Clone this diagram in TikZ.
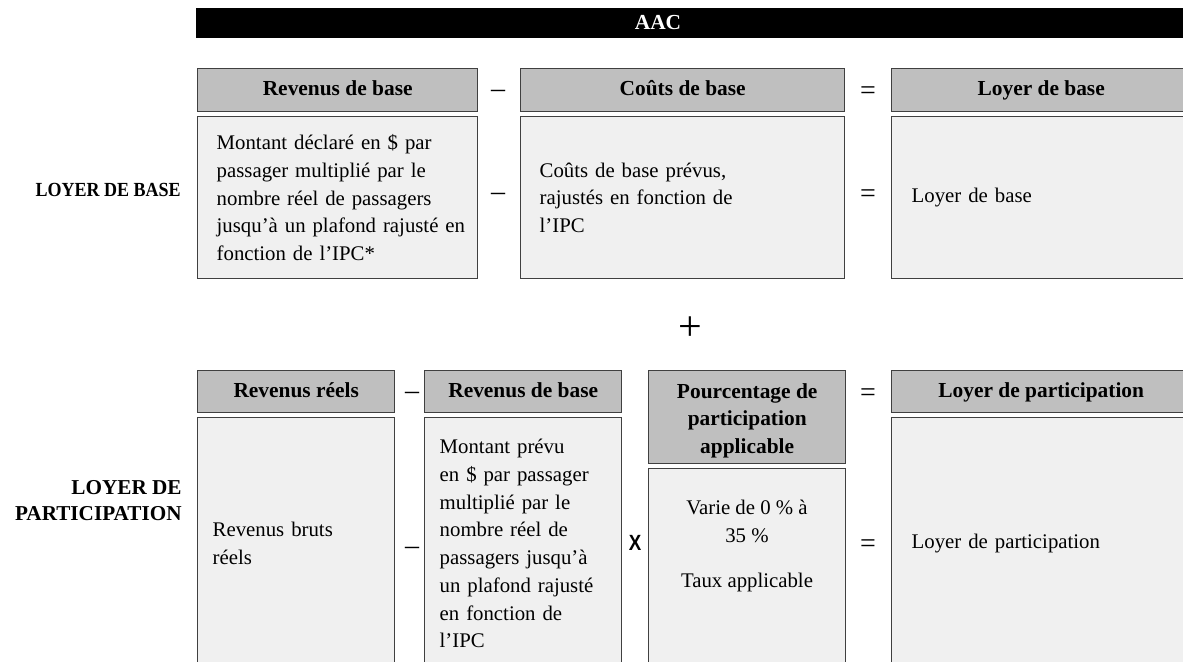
\documentclass[tikz,border=0pt]{standalone}
\usepackage{fontspec}
\setmainfont{Liberation Serif}
\setsansfont{Liberation Sans}

\begin{document}
\begin{tikzpicture}[x=0.5pt,y=-0.5pt,
hdrbox/.style={draw=black!75,fill=black!25,line width=0.7pt,rectangle,inner sep=0pt,anchor=north west,align=center,font=\fontsize{10.7}{13.85}\selectfont\bfseries,execute at begin node=\strut},
bodybox/.style={draw=black!75,fill=black!6,line width=0.7pt,rectangle,inner ysep=0pt,anchor=north west,align=left,font=\fontsize{10.4}{13.85}\selectfont},
bodytext/.style={inner sep=0pt,align=center,font=\fontsize{10.4}{13.85}\selectfont},
opsym/.style={inner sep=0pt,text height=7pt,text depth=0pt,font=\fontsize{14}{14}\selectfont},
eqsym/.style={opsym,text height=9.5pt},
sidelabel/.style={inner sep=0pt,anchor=east,align=right,font=\fontsize{10.6}{13}\selectfont\bfseries}]

\clip (0,0) rectangle (1183,661);

% bandeau AAC
\draw (196,8) node[fill=black,anchor=north west,inner sep=0pt,minimum width=497pt,minimum height=15pt] (bar) {};
\node[text=white,font=\fontsize{10.7}{12}\selectfont\bfseries] (aac) at (658,23) {AAC};

% loyer de base
\node[sidelabel] (lbase) at (181,190) {\scalebox{0.9}[1]{\fontsize{10}{12}\selectfont LOYER DE BASE}};
\draw (197,68) node[hdrbox,minimum width=140pt,minimum height=21.5pt] (h1) {Revenus de base};
\draw (520,68) node[hdrbox,minimum width=162pt,minimum height=21.5pt] (h2) {Coûts de base};
\draw (891,68) node[hdrbox,minimum width=149.5pt,minimum height=21.5pt] (h3) {Loyer de base};
\draw (197,116) node[bodybox,minimum height=81pt,inner xsep=9.5pt,text width=121pt] (b1)
  {Montant déclaré en \$ par\\passager multiplié par le\\nombre réel de passagers\\\mbox{jusqu’à un plafond rajusté en}\\fonction de l’IPC*};
\draw (520,116) node[bodybox,minimum height=81pt,inner xsep=9.5pt,text width=143pt] (b2)
  {Coûts de base prévus,\\rajustés en fonction de\\l’IPC};
\draw (891,116) node[bodybox,minimum height=81pt,inner xsep=10pt,text width=129.5pt] (b3) {Loyer de base};

\node[opsym] (m1) at (498,90) {–};
\node[opsym] (m2) at (498,193) {–};
\node[eqsym] (e1) at (868,90) {=};
\node[eqsym] (e2) at (868,193) {=};

\node[opsym,text height=15.5pt,font=\fontsize{21}{21}\selectfont] (plus) at (690,325) {+};

% loyer de participation
\node[sidelabel] (lpart) at (182,501) {LOYER DE\\PARTICIPATION};
\draw (197,370) node[hdrbox,minimum width=98.5pt,minimum height=21pt] (h4) {Revenus réels};
\draw (424,370) node[hdrbox,minimum width=98.5pt,minimum height=21pt] (h5) {Revenus de base};
\draw (648,370) node[hdrbox,minimum width=98.5pt,minimum height=46.5pt] (h6) {\rule{0pt}{12.7pt}Pourcentage de\\participation\\applicable};
\draw (891,370) node[hdrbox,minimum width=149.5pt,minimum height=21pt] (h7) {Loyer de participation};
\draw (197,417) node[bodybox,minimum height=126pt,inner xsep=7.5pt,text width=83.5pt] (b4) {Revenus bruts\\réels};
\draw (424,417) node[bodybox,minimum height=126pt,inner xsep=7.5pt,text width=83.5pt] (b5)
  {Montant prévu\\en \$ par passager\\multiplié par le\\nombre réel de\\passagers jusqu’à\\un plafond rajusté\\en fonction de\\l’IPC};
\draw (648,468) node[bodybox,minimum width=98.5pt,minimum height=100.5pt] (b6) {};
\node[bodytext] (t6) at (747,546) {Varie de 0 \% à\\35 \%\\[8.5pt]Taux applicable};
\draw (891,417) node[bodybox,minimum height=126pt,inner xsep=10pt,text width=129.5pt] (b7) {Loyer de participation};

\node[opsym] (m3) at (412,392) {–};
\node[opsym] (m4) at (412,547) {–};
\node[inner sep=0pt,font=\sffamily\bfseries\fontsize{11}{11}\selectfont] (x1) at (635,543) {\scalebox{0.85}[1]{X}};
\node[eqsym] (e3) at (868,392) {=};
\node[eqsym] (e4) at (868,543) {=};
\end{tikzpicture}
\end{document}
